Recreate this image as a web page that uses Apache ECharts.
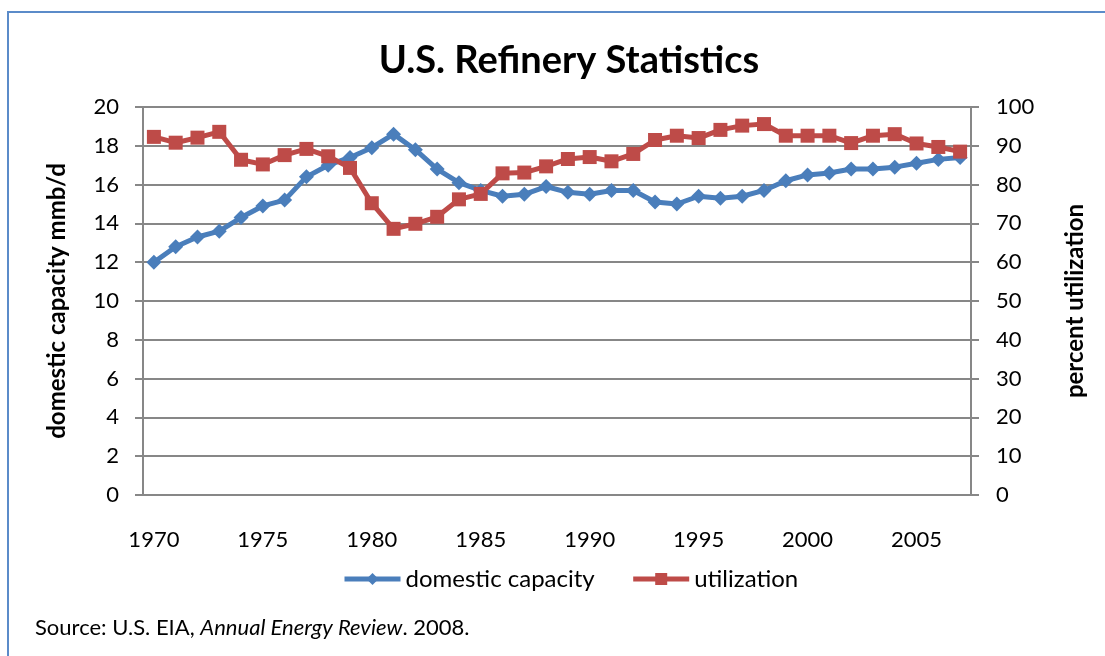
<!DOCTYPE html>
<html>
<head>
<meta charset="utf-8">
<title>U.S. Refinery Statistics</title>
<script src="https://cdn.jsdelivr.net/npm/echarts@6/dist/echarts.min.js"></script>
<style>
  html, body { margin: 0; padding: 0; background: #fff; }
  #chart { width: 1105px; height: 656px; }
</style>
</head>
<body>
<div id="chart"></div>
<script>
// years 1970..2007
const years = ['1970', '1971', '1972', '1973', '1974', '1975', '1976', '1977', '1978', '1979',
  '1980', '1981', '1982', '1983', '1984', '1985', '1986', '1987', '1988', '1989',
  '1990', '1991', '1992', '1993', '1994', '1995', '1996', '1997', '1998', '1999',
  '2000', '2001', '2002', '2003', '2004', '2005', '2006', '2007']

// domestic capacity, million barrels per day
const capacity = [12.0, 12.8, 13.3, 13.6, 14.3, 14.9, 15.2, 16.4, 17.0, 17.4,
  17.9, 18.6, 17.8, 16.8, 16.1, 15.7, 15.4, 15.5, 15.9, 15.6,
  15.5, 15.7, 15.7, 15.1, 15.0, 15.4, 15.3, 15.4, 15.7, 16.2,
  16.5, 16.6, 16.8, 16.8, 16.9, 17.1, 17.3, 17.4]

// utilization, percent
const utilization = [92.3, 90.8, 92.1, 93.6, 86.4, 85.2, 87.6, 89.2, 87.3, 84.3,
  75.2, 68.6, 69.9, 71.7, 76.2, 77.6, 82.9, 83.1, 84.7, 86.6,
  87.1, 86.0, 87.9, 91.5, 92.6, 92.0, 94.1, 95.2, 95.6, 92.6,
  92.6, 92.6, 90.7, 92.6, 93.0, 90.6, 89.7, 88.5]

const seriesNames = ['domestic capacity', 'utilization']

const leftTicks = { min: 0, max: 20, interval: 2 }
const rightTicks = { min: 0, max: 100, interval: 10 }

const font = 'Lato, "Noto Sans", sans-serif'
const gridColor = '#878787'

const chart = echarts.init(document.getElementById('chart'))

const option = {
  animation: false,
  textStyle: { fontFamily: font },
  title: [
    {
      text: 'U.S. Refinery Statistics',
      left: 564,
      top: 37,
      textAlign: 'center',
      textStyle: { fontFamily: font, fontSize: 38, fontWeight: 'bold', color: '#000' }
    },
    {
      text: 'Source: U.S. EIA, {i|Annual Energy Review}. 2008.',
      left: 30,
      top: 612,
      textStyle: {
        fontFamily: font, fontSize: 22, fontWeight: 'normal', color: '#000',
        rich: { i: { fontFamily: font, fontSize: 22, fontStyle: 'italic', color: '#000' } }
      }
    }
  ],
  graphic: [
    {
      type: 'rect',
      shape: { x: 8, y: 12, width: 1200, height: 700 },
      style: { fill: 'none', stroke: '#5B8BC9', lineWidth: 2 },
      silent: true
    }
  ],
  legend: {
    top: 562,
    left: 337,
    itemWidth: 56,
    itemHeight: 15,
    itemGap: 36,
    lineStyle: { width: 5 },
    textStyle: { fontFamily: font, fontSize: 24, color: '#000' },
    'data': seriesNames
  },
  grid: {
    left: 143,
    right: 134,
    top: 107,
    bottom: 161
  },
  xAxis: {
    type: 'category',
    'data': years,
    boundaryGap: true,
    axisLine: { lineStyle: { color: gridColor, width: 2 } },
    axisTick: { interval: 3, length: 8, lineStyle: { color: gridColor, width: 2 } },
    axisLabel: { interval: 4, margin: 34, fontSize: 22, color: '#000', fontFamily: font }
  },
  yAxis: [
    {
      type: 'value',
      ...leftTicks,
      name: 'domestic capacity mmb/d',
      nameLocation: 'middle',
      nameGap: 74,
      nameTextStyle: { fontFamily: font, fontSize: 24, fontWeight: 'bold', color: '#000' },
      axisLine: { show: true, lineStyle: { color: gridColor, width: 2 } },
      axisTick: { show: true, length: 8, lineStyle: { color: gridColor, width: 2 } },
      axisLabel: { fontSize: 22, color: '#000', margin: 24, fontFamily: font },
      splitLine: { lineStyle: { color: gridColor, width: 2 } }
    },
    {
      type: 'value',
      ...rightTicks,
      name: 'percent utilization',
      nameLocation: 'middle',
      nameGap: 92,
      nameRotate: 90,
      nameTextStyle: { fontFamily: font, fontSize: 24, fontWeight: 'bold', color: '#000' },
      axisLine: { show: true, lineStyle: { color: gridColor, width: 2 } },
      axisTick: { show: true, length: 8, lineStyle: { color: gridColor, width: 2 } },
      axisLabel: { fontSize: 22, color: '#000', margin: 25, fontFamily: font },
      splitLine: { show: false }
    }
  ],
  series: [
    {
      name: seriesNames[0],
      type: 'line',
      yAxisIndex: 0,
      'data': capacity,
      symbol: 'diamond',
      symbolSize: 15,
      showAllSymbol: true,
      lineStyle: { color: '#4A7EBB', width: 5 },
      itemStyle: { color: '#4A7EBB' }
    },
    {
      name: seriesNames[1],
      type: 'line',
      yAxisIndex: 1,
      'data': utilization,
      symbol: 'rect',
      symbolSize: 14,
      showAllSymbol: true,
      lineStyle: { color: '#BE4B48', width: 5 },
      itemStyle: { color: '#BE4B48' }
    }
  ]
}

chart.setOption(option)
window.addEventListener('resize', () => chart.resize())
</script>
</body>
</html>
